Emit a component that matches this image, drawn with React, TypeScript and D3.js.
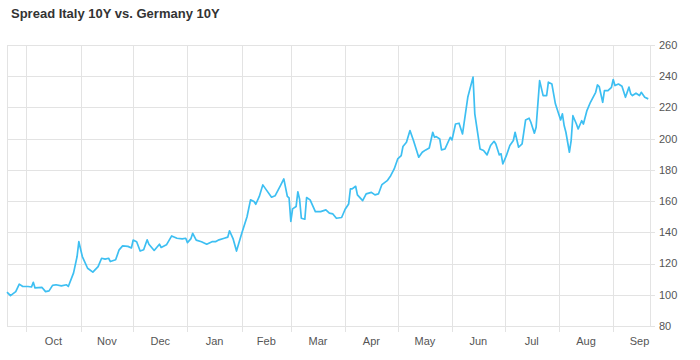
import React, { useRef, useEffect } from "react";
import * as d3 from "d3";

const title = "Spread Italy 10Y vs. Germany 10Y";

// daily closes
const dates = [
  "2017-09-20", "2017-09-22", "2017-09-25", "2017-09-27", "2017-09-29",
  "2017-10-02", "2017-10-04", "2017-10-05", "2017-10-06", "2017-10-10", "2017-10-12", "2017-10-14",
  "2017-10-16", "2017-10-18", "2017-10-21", "2017-10-24", "2017-10-25", "2017-10-28", "2017-10-30", "2017-10-31",
  "2017-11-02", "2017-11-05", "2017-11-08", "2017-11-11", "2017-11-13", "2017-11-15", "2017-11-17",
  "2017-11-18", "2017-11-21", "2017-11-23", "2017-11-25", "2017-11-28", "2017-11-30",
  "2017-12-01", "2017-12-03", "2017-12-05", "2017-12-07", "2017-12-09", "2017-12-10", "2017-12-13",
  "2017-12-16", "2017-12-17", "2017-12-20", "2017-12-23", "2017-12-26", "2017-12-29", "2017-12-31",
  "2018-01-01", "2018-01-03", "2018-01-04", "2018-01-06", "2018-01-09", "2018-01-12", "2018-01-15",
  "2018-01-17", "2018-01-19", "2018-01-22", "2018-01-24", "2018-01-25", "2018-01-27", "2018-01-29",
  "2018-02-01", "2018-02-04", "2018-02-06", "2018-02-08", "2018-02-09", "2018-02-11", "2018-02-13",
  "2018-02-15", "2018-02-18", "2018-02-20", "2018-02-23", "2018-02-25", "2018-02-27", "2018-02-28",
  "2018-03-01", "2018-03-02", "2018-03-04", "2018-03-05", "2018-03-06", "2018-03-07", "2018-03-09",
  "2018-03-10", "2018-03-12", "2018-03-15", "2018-03-18", "2018-03-21", "2018-03-23", "2018-03-25",
  "2018-03-27", "2018-03-30",
  "2018-04-01", "2018-04-03", "2018-04-04", "2018-04-05", "2018-04-07", "2018-04-08", "2018-04-11",
  "2018-04-13", "2018-04-16", "2018-04-18", "2018-04-20", "2018-04-22", "2018-04-25", "2018-04-27", "2018-04-29",
  "2018-05-01", "2018-05-03", "2018-05-04", "2018-05-06", "2018-05-08", "2018-05-10", "2018-05-13",
  "2018-05-15", "2018-05-17", "2018-05-19", "2018-05-21", "2018-05-22", "2018-05-23", "2018-05-25",
  "2018-05-26", "2018-05-28", "2018-05-31",
  "2018-06-01", "2018-06-03", "2018-06-05", "2018-06-07", "2018-06-10", "2018-06-13", "2018-06-14",
  "2018-06-17", "2018-06-19", "2018-06-21", "2018-06-23", "2018-06-25", "2018-06-26", "2018-06-28",
  "2018-06-29", "2018-06-30",
  "2018-07-02", "2018-07-04", "2018-07-06", "2018-07-07", "2018-07-09", "2018-07-11", "2018-07-13",
  "2018-07-15", "2018-07-16", "2018-07-18", "2018-07-19", "2018-07-21", "2018-07-23", "2018-07-25",
  "2018-07-26", "2018-07-28", "2018-07-30",
  "2018-08-02", "2018-08-03", "2018-08-04", "2018-08-05", "2018-08-07", "2018-08-08", "2018-08-09",
  "2018-08-11", "2018-08-12", "2018-08-14", "2018-08-15", "2018-08-17", "2018-08-19", "2018-08-22",
  "2018-08-23", "2018-08-24", "2018-08-26", "2018-08-27", "2018-08-29", "2018-08-31",
  "2018-09-01", "2018-09-02", "2018-09-04", "2018-09-06", "2018-09-08", "2018-09-10", "2018-09-11",
  "2018-09-12", "2018-09-14", "2018-09-16", "2018-09-17", "2018-09-19", "2018-09-21",
];

const spread = [
  101.7, 99.5, 102, 106.8, 105.3,
  105.3, 105, 108, 104.4, 104.7, 102, 102.5,
  106, 106.4, 105.7, 106.4, 105.3, 114, 124.5, 134,
  124.5, 117, 114.5, 118, 123.4, 122.8, 123.4,
  121.3, 122.4, 128.8, 131.3, 131, 130,
  135, 134, 128, 128.8, 135.2, 132.4, 128.4,
  132.4, 130.3, 132, 137.7, 136.2, 135.8, 136.2,
  133.4, 136, 139.4, 135, 134, 132.4, 134,
  134, 135.2, 136.2, 136.9, 141, 136, 128,
  139.4, 150, 160.8, 159.7, 158, 163, 170.4,
  167.2, 162.5, 163.4, 169.8, 174.2, 163, 162,
  147, 155, 156.5, 166, 161.2, 149, 148.4,
  162.3, 160.8, 153.3, 153.3, 154.4, 152.3, 151.8,
  149, 149.5,
  154.8, 158.2, 167.8, 167.8, 169.5, 164, 160.3,
  164.6, 165.6, 164, 164.6, 170.6, 173.1, 176.3, 180.6,
  187, 189.1, 195, 197.7, 205.2, 198.8, 188.1,
  191.3, 192.8, 194, 204.1, 200.9, 201.3, 199.8,
  192.8, 193.4, 200.9,
  199.2, 209.4, 209.9, 203, 226.5, 239.4, 215.9,
  193.4, 192.4, 189.6, 195.6, 198.3, 196.6, 189.6,
  190.3, 183.8,
  189.1, 195.6, 198.8, 204.1, 194.5, 196.6, 212,
  213.1, 210.5, 203.5, 207.3, 237.2, 227.6, 227.6,
  236.2, 235, 222.3,
  212, 215.9, 208.4, 204.1, 191.3, 198.8, 214.7,
  209.4, 206.2, 211.5, 209.4, 218, 223.3, 229.7,
  234.4, 233.4, 223.3, 230.8, 230.8, 232.9,
  237.9, 234, 235, 233.6, 226.5, 233, 228.7,
  227.6, 229.1, 227.6, 229.7, 226.5, 225.5,
];

const yTicks = [80, 100, 120, 140, 160, 180, 200, 220, 240, 260];
const monthLabels = ["Oct", "Nov", "Dec", "Jan", "Feb", "Mar", "Apr", "May", "Jun", "Jul", "Aug", "Sep"];
const xStart = "2017-09-20";
const xEnd = "2018-09-22";
const firstMonth = "2017-10-01";

const width = 700;
const height = 360;
const plot = { left: 7, right: 650, top: 45, bottom: 326 };
const gridColor = "#e3e3e3";
const font = "Arial, 'Liberation Sans', sans-serif";

const SpreadChart = () => {
  const ref: any = useRef();

  useEffect(() => {
    const svg = d3.select(ref.current);
    svg.selectAll("*").remove();
    const parse = d3.utcParse("%Y-%m-%d");

    const x = d3
      .scaleUtc()
      .domain([parse(xStart) as Date, parse(xEnd) as Date])
      .range([plot.left, plot.right]);

    const y = d3
      .scaleLinear()
      .domain([80, 260])
      .range([plot.bottom, plot.top]);

    // title
    svg
      .append("text")
      .attr("x", 11)
      .attr("y", 18)
      .attr("font-family", font)
      .attr("font-size", 13)
      .attr("font-weight", "bold")
      .attr("fill", "#333")
      .text(title);

    // horizontal grid lines + right ticks
    svg
      .append("g")
      .selectAll("line")
      .data(yTicks)
      .enter()
      .append("line")
      .attr("x1", plot.left)
      .attr("x2", plot.right + 5)
      .attr("y1", (d: any) => Math.round(y(d)) + 0.5)
      .attr("y2", (d: any) => Math.round(y(d)) + 0.5)
      .attr("stroke", gridColor);

    // month boundaries
    const months = d3.utcMonth.range(parse(firstMonth) as Date, parse(xEnd) as Date);
    svg
      .append("g")
      .selectAll("line")
      .data(months)
      .enter()
      .append("line")
      .attr("x1", (d: any) => Math.round(x(d)) + 0.5)
      .attr("x2", (d: any) => Math.round(x(d)) + 0.5)
      .attr("y1", plot.top)
      .attr("y2", plot.bottom + 6)
      .attr("stroke", gridColor);

    // left / right frame
    svg
      .append("g")
      .selectAll("line")
      .data([plot.left, plot.right])
      .enter()
      .append("line")
      .attr("x1", (d: any) => d + 0.5)
      .attr("x2", (d: any) => d + 0.5)
      .attr("y1", plot.top)
      .attr("y2", plot.bottom)
      .attr("stroke", gridColor);

    // y labels
    svg
      .append("g")
      .selectAll("text")
      .data(yTicks)
      .enter()
      .append("text")
      .attr("x", 659)
      .attr("y", (d: any) => y(d))
      .attr("dy", "0.35em")
      .attr("font-family", font)
      .attr("font-size", 11)
      .attr("fill", "#555")
      .text((d: any) => d);

    // month labels centered in each month
    svg
      .append("g")
      .selectAll("text")
      .data(months)
      .enter()
      .append("text")
      .attr("x", (d: any) => (x(d) + x(d3.utcMonth.offset(d, 1))) / 2)
      .attr("y", 345)
      .attr("text-anchor", "middle")
      .attr("font-family", font)
      .attr("font-size", 11)
      .attr("fill", "#555")
      .text((d: any, i: number) => monthLabels[i]);

    const points = dates.map((d, i) => ({ date: parse(d) as Date, value: spread[i] }));
    const line = d3
      .line<any>()
      .x((d) => x(d.date))
      .y((d) => y(d.value));

    svg
      .append("path")
      .datum(points)
      .attr("d", line)
      .attr("fill", "none")
      .attr("stroke", "#3dbff2")
      .attr("stroke-width", 1.7)
      .attr("stroke-linejoin", "round");
  }, []);

  return (
    <svg
      ref={ref}
      width={width}
      height={height}
      style={{ position: "absolute", left: 0, top: 0, background: "#fff" }}
    ></svg>
  );
};

export default function App() {
  return <SpreadChart />;
}
